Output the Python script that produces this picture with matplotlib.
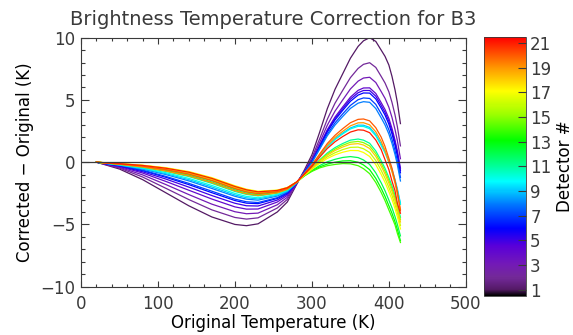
import matplotlib
import matplotlib.pyplot as plt
from matplotlib.colors import LinearSegmentedColormap, Normalize
from matplotlib.ticker import MultipleLocator
import matplotlib.colorbar as mcolorbar

matplotlib.use('Agg')

# original temperature grid (K)
temps = [20, 50, 80, 110, 140, 170, 200, 215, 230, 255, 268, 280, 290, 300, 310,
         320, 330, 340, 350, 360, 367, 375, 383, 390, 395, 400, 404, 408, 411, 415]

# corrected - original (K) for each detector
det1 = [0, -0.55, -1.4, -2.45, -3.5, -4.4, -5.0, -5.1, -4.95, -4.0, -3.2, -1.8, -0.65, 0.6, 2.4,
        4.3, 5.85, 7.1, 8.35, 9.3, 9.75, 10.0, 9.7, 9.0, 8.5, 7.8, 6.9, 5.8, 4.8, 3.1]
det2 = [0, -0.47, -1.19, -2.09, -3.0, -3.83, -4.44, -4.57, -4.47, -3.68, -2.99, -1.76, -0.74, 0.35, 1.87,
        3.45, 4.74, 5.77, 6.79, 7.53, 7.86, 7.99, 7.61, 6.89, 6.36, 5.65, 4.81, 3.79, 2.86, 1.31]
det3 = [0, -0.41, -1.02, -1.79, -2.6, -3.37, -3.98, -4.14, -4.09, -3.42, -2.82, -1.73, -0.78, 0.21, 1.57,
        2.97, 4.1, 5.0, 5.88, 6.51, 6.76, 6.82, 6.4, 5.67, 5.13, 4.41, 3.6, 2.62, 1.74, 0.28]
det4 = [0, -0.35, -0.87, -1.54, -2.25, -2.96, -3.59, -3.77, -3.76, -3.2, -2.67, -1.71, -0.82, 0.11, 1.34,
        2.61, 3.63, 4.44, 5.22, 5.77, 5.96, 5.97, 5.52, 4.78, 4.23, 3.51, 2.72, 1.77, 0.92, -0.47]
det5 = [0, -0.31, -0.77, -1.35, -2.0, -2.68, -3.3, -3.5, -3.52, -3.04, -2.56, -1.69, -0.83, 0.08, 1.29,
        2.52, 3.51, 4.3, 5.06, 5.58, 5.76, 5.76, 5.3, 4.56, 4.0, 3.28, 2.5, 1.56, 0.72, -0.66]
det6 = [0, -0.28, -0.68, -1.21, -1.8, -2.45, -3.08, -3.29, -3.33, -2.91, -2.48, -1.67, -0.84, 0.05, 1.23,
        2.43, 3.39, 4.16, 4.89, 5.39, 5.56, 5.55, 5.08, 4.34, 3.78, 3.05, 2.28, 1.35, 0.52, -0.85]
det7 = [0, -0.26, -0.64, -1.14, -1.7, -2.33, -2.97, -3.18, -3.24, -2.85, -2.43, -1.67, -0.86, 0.0, 1.12,
        2.25, 3.16, 3.88, 4.56, 5.02, 5.16, 5.12, 4.64, 3.89, 3.33, 2.6, 1.84, 0.92, 0.11, -1.22]
det8 = [0, -0.23, -0.56, -0.99, -1.5, -2.11, -2.74, -2.97, -3.05, -2.72, -2.35, -1.65, -0.87, -0.04, 1.04,
        2.12, 2.98, 3.67, 4.32, 4.74, 4.86, 4.81, 4.31, 3.56, 2.99, 2.26, 1.51, 0.61, -0.2, -1.51]
det9 = [0, -0.22, -0.51, -0.92, -1.4, -1.99, -2.63, -2.86, -2.95, -2.65, -2.31, -1.64, -0.96, -0.28, 0.51,
        1.27, 1.87, 2.34, 2.75, 2.98, 2.97, 2.79, 2.22, 1.45, 0.85, 0.12, -0.58, -1.41, -2.14, -3.29]
det10 = [0, -0.2, -0.47, -0.84, -1.3, -1.87, -2.51, -2.75, -2.86, -2.59, -2.26, -1.64, -0.96, -0.3, 0.48,
         1.23, 1.81, 2.27, 2.67, 2.88, 2.87, 2.69, 2.11, 1.34, 0.74, 0.0, -0.69, -1.51, -2.24, -3.39]
det11 = [0, -0.18, -0.41, -0.74, -1.15, -1.7, -2.35, -2.59, -2.71, -2.49, -2.2, -1.63, -1.01, -0.44, 0.18,
         0.74, 1.17, 1.5, 1.77, 1.86, 1.77, 1.52, 0.9, 0.12, -0.5, -1.24, -1.9, -2.68, -3.36, -4.42]
det12 = [0, -0.16, -0.37, -0.66, -1.05, -1.59, -2.23, -2.49, -2.62, -2.43, -2.16, -1.62, -1.08, -0.65, -0.27,
         0.03, 0.23, 0.38, 0.45, 0.37, 0.18, -0.18, -0.86, -1.66, -2.3, -3.05, -3.66, -4.38, -4.99, -5.92]
det13 = [0, -0.14, -0.32, -0.59, -0.95, -1.47, -2.12, -2.38, -2.52, -2.37, -2.11, -1.61, -1.1, -0.7, -0.38,
         -0.15, 0.0, 0.1, 0.12, 0.0, -0.22, -0.6, -1.3, -2.1, -2.75, -3.5, -4.1, -4.8, -5.4, -6.3]
det14 = [0, -0.14, -0.3, -0.55, -0.9, -1.41, -2.06, -2.33, -2.48, -2.33, -2.09, -1.61, -1.11, -0.74, -0.46,
         -0.28, -0.18, -0.11, -0.13, -0.28, -0.52, -0.92, -1.63, -2.43, -3.09, -3.84, -4.43, -5.05, -5.71, -6.45]
det15 = [0, -0.13, -0.28, -0.52, -0.85, -1.36, -2.01, -2.27, -2.43, -2.3, -2.07, -1.6, -1.02, -0.47, 0.12,
         0.65, 1.05, 1.36, 1.6, 1.67, 1.57, 1.31, 0.68, -0.1, -0.72, -1.47, -2.12, -2.89, -3.56, -4.61]
det16 = [0, -0.12, -0.26, -0.48, -0.8, -1.3, -1.95, -2.22, -2.38, -2.27, -2.05, -1.6, -1.04, -0.53, -0.02,
         0.43, 0.76, 1.01, 1.19, 1.21, 1.08, 0.78, 0.13, -0.66, -1.29, -2.03, -2.67, -3.42, -4.07, -5.08]
det17 = [0, -0.11, -0.24, -0.44, -0.75, -1.24, -1.89, -2.17, -2.33, -2.24, -2.03, -1.6, -1.05, -0.57, -0.1,
         0.3, 0.59, 0.8, 0.94, 0.93, 0.78, 0.46, -0.2, -0.99, -1.62, -2.37, -3.0, -3.74, -4.38, -5.36]
det18 = [0, -0.14, -0.3, -0.55, -0.9, -1.41, -2.06, -2.33, -2.48, -2.33, -2.09, -1.61, -1.03, -0.49, 0.06,
         0.56, 0.94, 1.22, 1.44, 1.49, 1.38, 1.1, 0.46, -0.32, -0.95, -1.69, -2.34, -3.1, -3.77, -4.8]
det19 = [0, -0.17, -0.39, -0.7, -1.1, -1.64, -2.29, -2.54, -2.67, -2.46, -2.18, -1.62, -0.95, -0.26, 0.57,
         1.36, 1.99, 2.48, 2.92, 3.16, 3.17, 3.0, 2.44, 1.67, 0.93, 0.0, -0.76, -1.7, -2.58, -3.8]
det20 = [0, -0.14, -0.32, -0.59, -0.95, -1.47, -2.12, -2.38, -2.52, -2.37, -2.11, -1.61, -0.93, -0.22, 0.65,
         1.5, 2.16, 2.69, 3.17, 3.44, 3.47, 3.32, 2.77, 2.01, 1.26, 0.3, -0.48, -1.5, -2.33, -3.9]
det21 = [0, -0.12, -0.26, -0.48, -0.8, -1.3, -1.95, -2.22, -2.38, -2.27, -2.05, -1.6, -0.97, -0.34, 0.4,
         1.1, 1.64, 2.06, 2.42, 2.6, 2.57, 2.37, 1.78, 1.01, 0.2, -0.6, -1.52, -2.3, -3.29, -4.1]

detectors = list(range(1, 22))
curves = [det1, det2, det3, det4, det5, det6, det7, det8, det9, det10, det11,
          det12, det13, det14, det15, det16, det17, det18, det19, det20, det21]
cbar_ticks = list(range(1, 22, 2))

# IDL-like rainbow (black -> purple -> blue -> cyan -> green -> yellow -> red)
rainbow = LinearSegmentedColormap.from_list('idl_rainbow', [
    (0.00, (0.0, 0.0, 0.0)),
    (0.024, (0.33, 0.10, 0.40)),
    (0.07, (0.45, 0.16, 0.60)),
    (0.12, (0.45, 0.10, 0.72)),
    (0.19, (0.35, 0.0, 0.85)),
    (0.26, (0.0, 0.0, 1.0)),
    (0.35, (0.0, 0.45, 1.0)),
    (0.44, (0.0, 1.0, 1.0)),
    (0.50, (0.0, 1.0, 0.6)),
    (0.60, (0.0, 1.0, 0.0)),
    (0.70, (0.6, 1.0, 0.0)),
    (0.79, (1.0, 1.0, 0.0)),
    (0.88, (1.0, 0.6, 0.0)),
    (1.00, (1.0, 0.0, 0.0)),
])
norm = Normalize(vmin=0.5, vmax=21.5)

ink = '#3a3a3a'
plt.rcParams['font.family'] = 'DejaVu Sans'
plt.rcParams['text.color'] = ink
plt.rcParams['axes.edgecolor'] = ink
plt.rcParams['xtick.color'] = ink
plt.rcParams['ytick.color'] = ink

fig = plt.figure(figsize=(5.73, 3.35), dpi=100)
ax = fig.add_axes([0.1414, 0.1442, 0.6716, 0.7433])

for d, vals in zip(detectors, curves):
    ax.plot(temps, vals, color=rainbow(norm(d)), lw=0.9)

ax.axhline(0, color=ink, lw=0.9, zorder=5)

ax.set_xlim(0, 500)
ax.set_ylim(-10, 10)
ax.xaxis.set_major_locator(MultipleLocator(100))
ax.xaxis.set_minor_locator(MultipleLocator(20))
ax.yaxis.set_major_locator(MultipleLocator(5))
ax.yaxis.set_minor_locator(MultipleLocator(1))
ax.tick_params(axis='x', which='major', direction='in', top=True, length=4, width=0.8, labelsize=12, pad=6)
ax.tick_params(axis='x', which='minor', direction='in', top=True, length=2, width=0.8)
ax.tick_params(axis='y', which='major', direction='in', right=True, length=6, width=0.8, labelsize=12, pad=4)
ax.tick_params(axis='y', which='minor', direction='in', right=True, length=3, width=0.8)
for sp in ax.spines.values():
    sp.set_linewidth(0.8)

ax.set_xlabel('Original Temperature (K)', fontsize=12, labelpad=1)
ax.set_ylabel('Corrected \u2212 Original (K)', fontsize=12, labelpad=5)
ax.set_title('Brightness Temperature Correction for B3', fontsize=14, pad=9)

cax = fig.add_axes([0.8447, 0.1173, 0.0733, 0.7731])
cb = mcolorbar.ColorbarBase(cax, cmap=rainbow, norm=norm, orientation='vertical')
cb.set_ticks(cbar_ticks)
cb.outline.set_linewidth(0.6)
cax.tick_params(direction='in', length=6, width=0.8, labelsize=12, right=True, left=False, pad=3)
cb.set_label('Detector #', fontsize=12, labelpad=3)

fig.savefig('out.png', dpi=100)
plt.close(fig)
